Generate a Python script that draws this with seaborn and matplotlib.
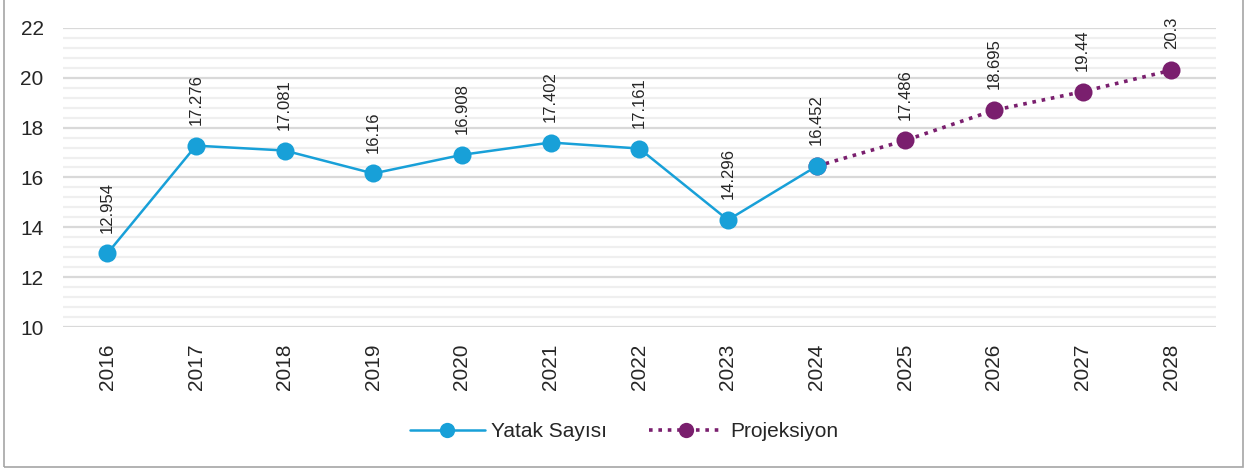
import pandas as pd
import numpy as np
import matplotlib.pyplot as plt
import seaborn as sns
from matplotlib.patches import Rectangle
from matplotlib.lines import Line2D

# ----------------------------------------------------------
# Data
# ----------------------------------------------------------

years = ["2016", "2017", "2018", "2019", "2020", "2021", "2022",
         "2023", "2024", "2025", "2026", "2027", "2028"]

yatak_years = years[:9]
yatak_values = [12.954, 17.276, 17.081, 16.16, 16.908, 17.402, 17.161,
                14.296, 16.452]
yatak_labels = ["12.954", "17.276", "17.081", "16.16", "16.908", "17.402",
                "17.161", "14.296", "16.452"]

proj_years = years[8:]
proj_values = [16.452, 17.486, 18.695, 19.44, 20.3]
proj_labels = ["17.486", "18.695", "19.44", "20.3"]

blue = "#18A0D8"
purple = "#7A1F6E"

# ----------------------------------------------------------
# Style
# ----------------------------------------------------------

sns.set_style("white")
plt.rcParams["font.family"] = ["Liberation Sans", "DejaVu Sans"]

fig = plt.figure(figsize=(12.48, 4.72), dpi=100)
ax = fig.add_axes([0.0505, 0.307, 0.9235, 0.634])

# frame around the figure
fig.patches.append(Rectangle((0.0035, 0.011), 0.9925, 1.1, transform=fig.transFigure,
                             fill=False, edgecolor="#a6a6a6", linewidth=1.2))

df_yatak = pd.DataFrame({"Yil": yatak_years, "Deger": yatak_values})
df_proj = pd.DataFrame({"Yil": proj_years, "Deger": proj_values})

# register all categories in order
ax.plot(years, [np.nan] * len(years))

sns.lineplot(data=df_proj, x="Yil", y="Deger", ax=ax, color=purple,
             linestyle=(0, (1, 1.6)), linewidth=2.6, marker="o",
             markersize=13, markeredgewidth=0, zorder=3)
sns.lineplot(data=df_yatak, x="Yil", y="Deger", ax=ax, color=blue,
             linewidth=1.8, marker="o", markersize=13,
             markeredgewidth=0, zorder=4)

# value labels
for x, y, t in zip(yatak_years, yatak_values, yatak_labels):
    ax.annotate(t, (x, y), xytext=(0, 15), textcoords="offset points",
                rotation=90, ha="center", va="bottom", fontsize=12)
for x, y, t in zip(proj_years[1:], proj_values[1:], proj_labels):
    ax.annotate(t, (x, y), xytext=(0, 15), textcoords="offset points",
                rotation=90, ha="center", va="bottom", fontsize=12)

# ----------------------------------------------------------
# Axes
# ----------------------------------------------------------

ax.set_ylim(10, 22)
ax.set_xlim(-0.5, 12.5)
ax.set_yticks(np.arange(10, 23, 2))
ax.set_yticks(np.arange(10, 22.01, 0.4), minor=True)
ax.grid(axis="y", which="major", color="#d9d9d9", linewidth=1.6)
ax.grid(axis="y", which="minor", color="#efefef", linewidth=1.6)
ax.grid(axis="x", visible=False)
ax.set_axisbelow(True)
ax.tick_params(axis="x", rotation=90, labelsize=15, length=0, pad=12)
ax.tick_params(axis="y", labelsize=15, length=0, pad=14)
ax.tick_params(which="minor", length=0)
for s in ax.spines.values():
    s.set_visible(False)
ax.set_xlabel("")
ax.set_ylabel("")

handles = [
    Line2D([0], [0], color=blue, linewidth=1.8, marker="o", markersize=11,
           markeredgewidth=0),
    Line2D([0], [0], color=purple, linewidth=2.6, linestyle=(0, (1, 1.6)),
           marker="o", markersize=11, markeredgewidth=0),
]
fig.legend(handles, ["Yatak Sayısı", "Projeksiyon"], loc="center",
           bbox_to_anchor=(0.5, 0.085), ncol=2, frameon=False, fontsize=15,
           handlelength=3.6, handletextpad=0.3, columnspacing=2.0)

plt.savefig("out.png", dpi=100)
plt.close()
